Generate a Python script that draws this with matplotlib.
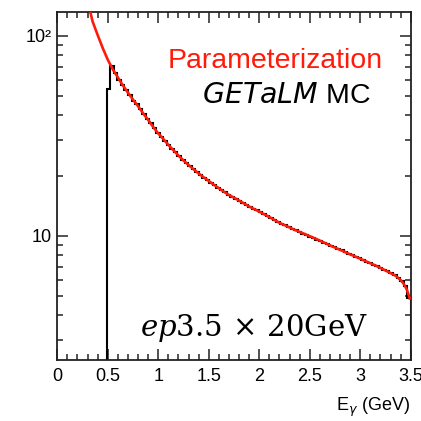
import numpy as np
import matplotlib
matplotlib.use("Agg")
import matplotlib.pyplot as plt
from matplotlib.ticker import FixedLocator, NullFormatter, FixedFormatter

plt.rcParams['font.family'] = ['Liberation Sans', 'DejaVu Sans']
plt.rcParams['mathtext.fontset'] = 'dejavuserif'

# Histogram binning: 100 bins over 0-3.5 GeV, first filled bin starts at 0.49
bin_width = 0.035
first_edge = 0.49
mc_counts = [
    54.0, 71.0, 65.0, 60.5, 57.0, 53.5, 50.5, 47.5, 45.5, 43.0,
    40.5, 38.5, 36.5, 34.5, 32.8, 31.2, 29.8, 28.4, 27.2, 26.1,
    25.0, 24.0, 23.1, 22.3, 21.6, 20.8, 20.2, 19.5, 19.0, 18.4,
    17.9, 17.4, 16.9, 16.5, 16.0, 15.7, 15.3, 15.0, 14.6, 14.3,
    13.95, 13.65, 13.4, 13.1, 12.8, 12.55, 12.3, 12.0, 11.7, 11.5,
    11.25, 11.05, 10.85, 10.65, 10.45, 10.25, 10.05, 9.85, 9.7, 9.55,
    9.4, 9.2, 9.05, 8.9, 8.75, 8.6, 8.45, 8.28, 8.13, 7.98,
    7.84, 7.7, 7.56, 7.42, 7.3, 7.17, 7.03, 6.9, 6.77, 6.63,
    6.48, 6.33, 6.15, 5.95, 5.6, 4.9,
]

# Parameterization curve
param_E = [0.30, 0.35, 0.40, 0.45, 0.50, 0.55, 0.60, 0.65, 0.70, 0.75,
           0.80, 0.85, 0.90, 0.95, 1.00, 1.05, 1.10, 1.15, 1.20, 1.25,
           1.30, 1.35, 1.40, 1.45, 1.50, 1.55, 1.60, 1.65, 1.70, 1.75,
           1.80, 1.85, 1.90, 1.95, 2.00, 2.05, 2.10, 2.15, 2.20, 2.25,
           2.30, 2.35, 2.40, 2.45, 2.50, 2.55, 2.60, 2.65, 2.70, 2.75,
           2.80, 2.85, 2.90, 2.95, 3.00, 3.05, 3.10, 3.15, 3.20, 3.25,
           3.30, 3.35, 3.40, 3.43, 3.46, 3.48, 3.49]
param_val = [150, 118, 101, 87, 76, 68, 62, 56.5, 52, 48,
             44.5, 41, 38, 35, 32.5, 30.5, 28.5, 26.8, 25.2, 23.8,
             22.6, 21.5, 20.5, 19.6, 18.8, 18.0, 17.3, 16.6, 16.0, 15.5,
             15.0, 14.5, 14.0, 13.6, 13.2, 12.8, 12.4, 12.0, 11.6, 11.3,
             11.0, 10.7, 10.45, 10.2, 9.95, 9.7, 9.45, 9.2, 8.95, 8.72,
             8.5, 8.28, 8.07, 7.87, 7.67, 7.47, 7.28, 7.1, 6.9, 6.7,
             6.5, 6.3, 6.0, 5.75, 5.4, 5.05, 4.85]

x_major = [0, 0.5, 1, 1.5, 2, 2.5, 3, 3.5]
x_labels = ["0", "0.5", "1", "1.5", "2", "2.5", "3", "3.5"]
y_major = [10, 100]
y_labels = ["10", "10\u00b2"]

fig = plt.figure(figsize=(4.21, 4.21), dpi=100)
W = H = 421.0
ax = fig.add_axes([57.3 / W, 1 - 360 / H, (410.7 - 57.3) / W, (360 - 11.7) / H])
ax.set_yscale('log')
ax.set_xlim(0, 3.5)
ax.set_ylim(2.386, 132.3)

# Black step histogram (empty region below threshold sits under the axis)
n = len(mc_counts)
edges = first_edge + bin_width * np.arange(n + 1)
full_edges = np.concatenate([[0.0], edges])
full_vals = np.concatenate([[1e-3], mc_counts])
ax.stairs(full_vals, full_edges, color='black', lw=1.5, baseline=1e-3, zorder=2)

ax.plot(param_E, param_val, color='#ff1a0a', lw=1.9, zorder=3)

# ROOT-style inward ticks on all four sides
ax.xaxis.set_major_locator(FixedLocator(x_major))
ax.xaxis.set_major_formatter(FixedFormatter(x_labels))
ax.xaxis.set_minor_locator(FixedLocator(np.arange(0, 3.501, 0.1)))
ax.yaxis.set_major_locator(FixedLocator(y_major))
ax.yaxis.set_major_formatter(FixedFormatter(y_labels))
y_minor = [3, 4, 5, 6, 7, 8, 9, 20, 30, 40, 50, 60, 70, 80, 90]
ax.yaxis.set_minor_locator(FixedLocator(y_minor))
ax.yaxis.set_minor_formatter(NullFormatter())
ax.tick_params(which='both', direction='in', top=True, right=True, width=1.2, color='#333333')
ax.tick_params(which='major', length=8)
ax.tick_params(which='minor', length=4.5)
ax.tick_params(axis='x', which='major', labelsize=13, pad=6)
ax.tick_params(axis='y', which='major', labelsize=13, pad=4)
for s in ax.spines.values():
    s.set_linewidth(1.3)
    s.set_color('#222222')

fig.text(410 / W, 1 - 407 / H, "E$_{\\gamma}$ (GeV)", ha='right', va='center',
         fontsize=13, math_fontfamily='dejavusans')

fig.text(383 / W, 1 - 67.7 / H, "Parameterization", color='#ff1a0a', ha='right',
         va='baseline', fontsize=20.5)
fig.text(371 / W, 1 - 103.3 / H, "$\\mathit{GETaLM}$ MC", ha='right', va='baseline',
         fontsize=20.5, math_fontfamily='dejavusans')
fig.text(140 / W, 1 - 335.7 / H, "$ep3.5\\,\\times\\,20\\mathrm{GeV}$", ha='left',
         va='baseline', fontsize=21)

fig.savefig("out.png", dpi=100, facecolor='white')
